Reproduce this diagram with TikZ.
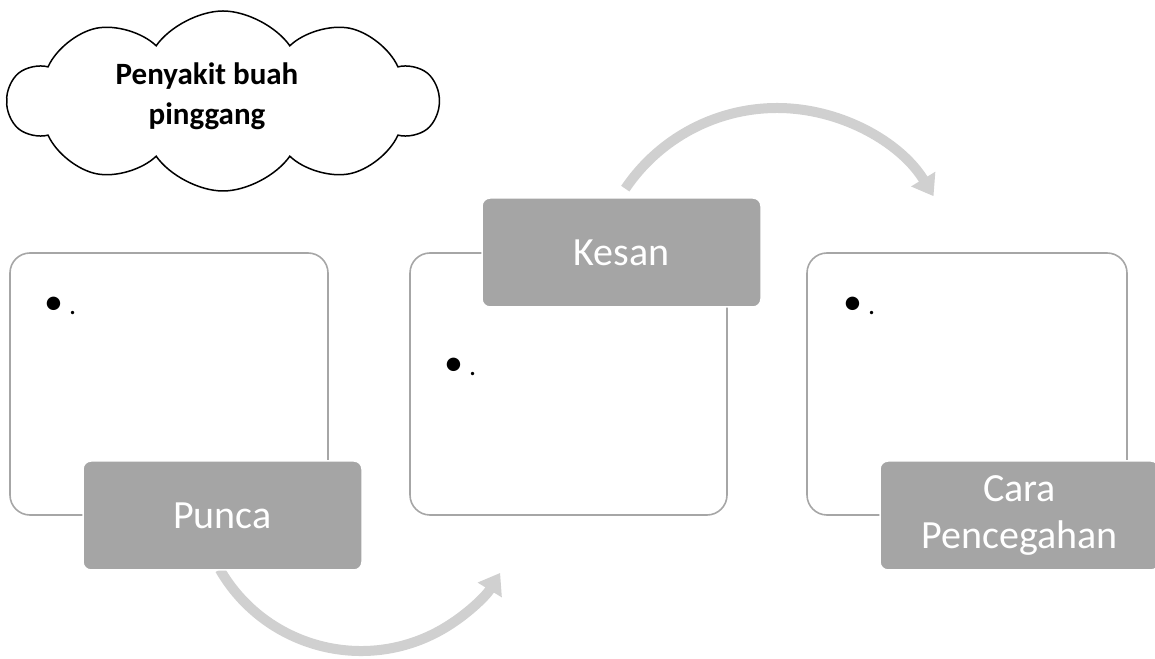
\documentclass[tikz,border=0pt]{standalone}
\usepackage{fontspec}
\setmainfont{Carlito}
\usetikzlibrary{arrows.meta,shapes.symbols}
\definecolor{boxline}{HTML}{A6A6A6}
\definecolor{labfill}{HTML}{A5A5A5}
\definecolor{arrowc}{HTML}{D0D0D0}
\tikzset{
  outerbox/.style={draw=boxline,line width=1.6pt,fill=white,rounded corners=20pt},
  labelbox/.style={draw=white,line width=1.5pt,fill=labfill,rounded corners=8pt,text=white,align=center,font=\fontsize{40}{47}\selectfont},
  flowarrow/.style={draw=arrowc,line width=10pt,-{Triangle[width=27pt,length=20pt]}},
  bulletnode/.style={anchor=base west,inner sep=0pt},
}
\begin{document}
\begin{tikzpicture}[x=1pt,y=1pt]
\useasboundingbox (0,0) rectangle (1155,658);
% cloud
\node[cloud,draw=black,line width=1.5pt,fill=white,cloud puffs=10,cloud puff arc=110,aspect=2.4,minimum width=430pt,minimum height=180pt,inner sep=0pt] (cloud) at (223,557) {};
\node[align=center,font=\bfseries\fontsize{31}{40}\selectfont] (title) at (207,562) {Penyakit buah\\pinggang};
% arrows
\draw[flowarrow] (361,170) ++(-150:163) arc[start angle=-150,end angle=-31.4,radius=163];
\draw[flowarrow] (777,367) ++(146:183) arc[start angle=146,end angle=31.2,radius=183];
% boxes
\draw[outerbox] (10,143) rectangle (328,405);
\draw[outerbox] (410,143) rectangle (727,405);
\draw[outerbox] (807,143) rectangle (1127,405);
\node[bulletnode] (b1) at (44,343) {{\fontsize{38}{38}\selectfont •}\hspace{6pt}{\fontsize{28}{28}\selectfont .}};
\node[bulletnode] (b2) at (444,282) {{\fontsize{38}{38}\selectfont •}\hspace{6pt}{\fontsize{28}{28}\selectfont .}};
\node[bulletnode] (b3) at (843,343) {{\fontsize{38}{38}\selectfont •}\hspace{6pt}{\fontsize{28}{28}\selectfont .}};
% labels
\node[labelbox,minimum width=279pt,minimum height=109pt] (punca) at (222.5,142.5) {Punca};
\node[labelbox,minimum width=279pt,minimum height=109pt] (kesan) at (621.5,405.5) {Kesan};
\node[labelbox,minimum width=279pt,minimum height=109pt] (cara) at (1019.5,142.5) {Cara\\Pencegahan};
\end{tikzpicture}
\end{document}
